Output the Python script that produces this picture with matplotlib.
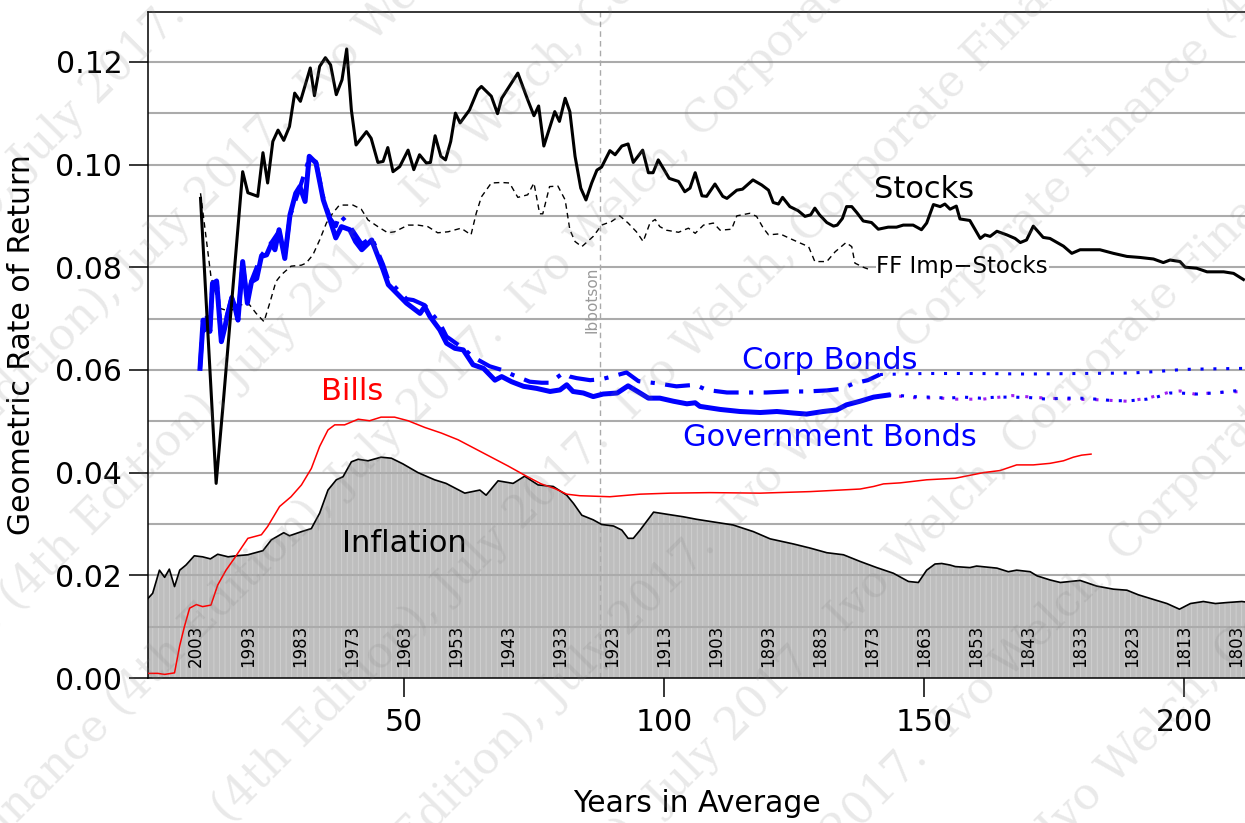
import numpy as np
import matplotlib
matplotlib.use("Agg")
import matplotlib.pyplot as plt

plt.rcParams['font.family'] = ['DejaVu Sans']
plt.rcParams['hatch.linewidth'] = 0.6

# ---------------- data ----------------
stocks_x = [10.9, 13.9, 15.3, 17.2, 19.0, 20.0, 21.9, 22.9, 23.8, 24.8, 25.8, 26.9, 28.0, 29.0, 30.1, 32.0, 32.8,
            33.8, 34.9, 35.9, 37.0, 38.1, 39.0, 39.9, 40.8, 42.8, 43.7, 45.0, 46.0, 46.9, 47.9, 49.2, 50.8, 51.9,
            53.0, 54.3, 55.1, 56.0, 57.1, 58.0, 59.0, 59.9, 60.8, 62.6, 64.2, 64.9, 66.8, 68.0, 68.8, 71.9, 73.8,
            75.0, 75.9, 76.9, 79.0, 79.9, 81.0, 81.9, 82.9, 84.0, 85.0, 86.1, 87.1, 88.0, 89.6, 90.6, 91.9, 93.1,
            94.1, 95.9, 97.0, 97.9, 98.9, 101.0, 102.8, 104.0, 105.0, 106.0, 107.3, 108.2, 109.8, 111.3, 112.1,
            114.0, 115.1, 117.1, 118.8, 120.1, 121.0, 122.0, 122.8, 124.2, 125.8, 127.1, 128.2, 129.0, 129.9,
            131.3, 132.6, 133.3, 134.3, 135.1, 136.1, 137.1, 138.3, 139.9, 141.2, 143.1, 144.7, 146.0, 147.9,
            149.5, 150.5, 151.8, 153.1, 154.0, 155.0, 156.2, 156.9, 158.8, 160.8, 161.7, 162.7, 164.0, 165.9,
            167.5, 168.5, 169.7, 171.0, 172.9, 174.2, 176.8, 178.4, 180.0, 183.8, 186.4, 189.0, 191.5, 194.1,
            196.0, 197.3, 199.2, 200.2, 202.4, 204.4, 207.6, 209.5, 211.4]
stocks_y = [.0934, .0379, .0540, .0769, .0986, .0945, .0938, .1023, .0964, .1045, .1067, .1047, .1074, .1139, .1123,
            .1188, .1134, .1191, .1208, .1194, .1136, .1165, .1225, .1106, .1038, .1064, .1051, .1004, .1006, .1033,
            .0986, .0996, .1028, .0990, .1019, .1003, .1004, .1056, .1016, .1009, .1045, .1100, .1081, .1106, .1145,
            .1152, .1133, .1099, .1129, .1178, .1126, .1095, .1114, .1036, .1103, .1084, .1129, .1103, .1016, .0954,
            .0931, .0964, .0989, .0995, .1027, .1019, .1036, .1040, .1004, .1028, .0984, .0984, .1009, .0973, .0967,
            .0947, .0954, .0984, .0939, .0938, .0962, .0938, .0934, .0950, .0952, .0970, .0960, .0950, .0926, .0923,
            .0936, .0918, .0910, .0899, .0902, .0915, .0902, .0887, .0880, .0882, .0895, .0918, .0918, .0906, .0890,
            .0887, .0874, .0878, .0878, .0882, .0882, .0873, .0886, .0922, .0918, .0923, .0913, .0919, .0894, .0891,
            .0856, .0863, .0860, .0870, .0863, .0856, .0848, .0853, .0880, .0858, .0856, .0841, .0827, .0834, .0834,
            .0827, .0821, .0819, .0816, .0809, .0814, .0811, .0800, .0798, .0791, .0791, .0788, .0776]

ff_x = [10.9, 12.9, 14.6, 16.5, 18.7, 20.3, 21.6, 23.1, 24.2, 25.4, 26.4, 28.3, 30.3, 31.2, 32.5, 33.8, 35.1, 36.3,
        37.6, 40.2, 41.8, 43.1, 45.0, 46.9, 48.2, 50.8, 52.7, 54.6, 56.5, 58.5, 61.0, 62.9, 63.9, 64.9, 66.8, 68.7,
        70.3, 71.9, 73.8, 75.0, 76.1, 76.7, 78.0, 79.6, 81.0, 81.9, 82.9, 84.2, 86.4, 88.0, 89.9, 91.5, 93.1, 94.7,
        96.0, 97.3, 98.3, 99.2, 100.5, 102.8, 104.7, 106.0, 107.6, 109.5, 110.8, 113.0, 114.0, 116.5, 117.8, 119.1,
        120.1, 122.3, 124.2, 126.2, 127.8, 129.0, 131.3, 132.9, 135.0, 136.1, 136.7, 138.3, 139.6]
ff_y = [.0944, .0782, .0720, .0714, .0727, .0727, .0710, .0694, .0730, .0772, .0785, .0802, .0804, .0808, .0824,
        .0853, .0886, .0905, .0921, .0921, .0913, .0892, .0879, .0867, .0869, .0882, .0882, .0879, .0867, .0869,
        .0876, .0863, .0905, .0937, .0964, .0965, .0964, .0936, .0941, .0964, .0904, .0904, .0957, .0958, .0931,
        .0873, .0850, .0840, .0860, .0882, .0889, .0900, .0886, .0869, .0850, .0886, .0893, .0879, .0872, .0868,
        .0876, .0866, .0882, .0886, .0872, .0874, .0900, .0905, .0899, .0876, .0863, .0865, .0856, .0847, .0840,
        .0811, .0811, .0830, .0848, .0840, .0808, .0800, .0795]

gov_x = [10.8, 11.4, 11.7, 12.2, 12.7, 13.2, 14.0, 14.9, 15.6, 16.0, 16.9, 17.5, 18.1, 19.0, 19.9, 20.7, 21.7, 22.6,
         23.6, 24.6, 25.2, 26.0, 27.1, 28.1, 29.2, 30.0, 31.0, 31.8, 33.1, 34.5, 35.8, 36.9, 38.0, 39.6, 40.7, 41.9,
         43.8, 46.0, 47.0, 50.5, 53.1, 54.0, 55.0, 56.9, 58.2, 59.8, 61.4, 63.3, 65.3, 67.5, 68.8, 70.7, 73.0, 75.5,
         78.1, 80.0, 81.3, 82.5, 84.5, 86.4, 88.3, 91.0, 93.1, 95.4, 97.0, 99.2, 101.8, 104.4, 106.0, 106.9, 110.8,
         114.6, 118.5, 121.7, 124.9, 127.4, 130.6, 133.2, 135.1, 137.7, 140.3, 143.1]
gov_y = [.0603, .0697, .0678, .0701, .0675, .0769, .0772, .0655, .0684, .0704, .0740, .0723, .0697, .0811, .0730,
         .0772, .0778, .0821, .0824, .0847, .0834, .0873, .0817, .0902, .0944, .0957, .0928, .1016, .1003, .0931,
         .0892, .0857, .0879, .0873, .0850, .0834, .0853, .0795, .0766, .0730, .0710, .0723, .0704, .0678, .0652,
         .0642, .0639, .0610, .0603, .0580, .0587, .0577, .0568, .0564, .0558, .0561, .0571, .0558, .0555, .0548,
         .0553, .0555, .0569, .0555, .0545, .0545, .0539, .0534, .0536, .0529, .0523, .0519, .0517, .0519, .0516,
         .0514, .0519, .0522, .0532, .0539, .0547, .0551]

gov_ext_x = [143.1, 144.1, 147.9, 151.2, 154.4, 157.6, 160.8, 164.0, 167.2, 170.4, 173.6, 176.8, 180.0, 183.2, 186.4,
             189.6, 192.8, 194.7, 197.3, 199.2, 202.4, 205.6, 208.8, 211.4]
gov_ext_y = [.0551, .0551, .0548, .0547, .0545, .0547, .0545, .0547, .0547, .0546, .0543, .0545, .0545, .0543, .0540,
             .0540, .0543, .0547, .0555, .0555, .0553, .0555, .0558, .0561]
gov_alt_x = [143.1, 148.0, 153.3, 156.0, 161.3, 167.0, 172.0, 178.0, 183.0, 189.0, 193.0, 197.3, 199.2, 202.0, 207.0,
             211.4]
gov_alt_y = [.0551, .0546, .0545, .0543, .0543, .0550, .0546, .0543, .0542, .0539, .0545, .0557, .0559, .0553, .0556,
             .0558]

corp_x = [10.8, 11.4, 12.2, 12.7, 13.2, 14.0, 14.9, 16.0, 16.9, 18.1, 19.0, 19.9, 20.7, 22.6, 24.6, 26.0, 27.1, 28.1,
          30.0, 31.8, 33.1, 34.5, 35.8, 36.9, 37.6, 38.5, 39.6, 41.9, 43.8, 46.0, 47.0, 50.5, 51.8, 54.0, 56.9, 58.2,
          61.4, 63.3, 66.5, 68.8, 71.0, 74.2, 76.5, 78.1, 80.6, 81.9, 83.2, 85.8, 88.0, 89.6, 92.8, 95.1, 98.6,
          102.4, 106.0, 108.2, 112.1, 115.9, 119.7, 123.6, 127.4, 131.3, 134.0, 136.6, 139.2, 141.5]
corp_y = [.0605, .0695, .0703, .0678, .0767, .0774, .0658, .0706, .0742, .0700, .0808, .0733, .0774, .0823, .0849,
          .0870, .0820, .0900, .0955, .1012, .1005, .0935, .0895, .0880, .0902, .0893, .0880, .0845, .0858, .0805,
          .0775, .0738, .0736, .0726, .0691, .0665, .0642, .0625, .0607, .0600, .0590, .0577, .0575, .0575, .0594,
          .0587, .0584, .0580, .0582, .0586, .0595, .0578, .0574, .0568, .0571, .0561, .0556, .0556, .0556, .0558,
          .0558, .0560, .0563, .0574, .0580, .0591]
corp_ext_x = [141.5, 150.0, 160.0, 170.0, 180.0, 190.0, 195.0, 200.0, 205.0, 211.8]
corp_ext_y = [.0591, .0593, .0593, .0592, .0593, .0594, .0597, .0601, .0602, .0603]

bills_x = [0.8, 2.7, 4.0, 5.9, 6.9, 7.8, 8.8, 10.1, 11.3, 12.9, 14.2, 15.8, 17.4, 20.0, 22.6, 23.8, 26.1, 28.3, 30.3,
           32.2, 33.8, 35.4, 36.7, 38.6, 41.2, 43.4, 45.6, 48.2, 50.8, 54.0, 57.2, 60.4, 63.6, 66.8, 70.0, 73.2,
           76.4, 79.0, 81.3, 83.8, 89.6, 95.4, 101.2, 108.8, 118.5, 128.1, 137.7, 140.3, 142.2, 145.4, 150.5,
           156.0, 161.4, 164.6, 167.8, 171.0, 174.2, 176.8, 178.7, 180.3, 182.1]
bills_y = [.0009, .0009, .0007, .0010, .0063, .0100, .0136, .0143, .0139, .0142, .0181, .0210, .0233, .0272, .0279,
           .0295, .0334, .0353, .0376, .0408, .0451, .0483, .0493, .0493, .0504, .0501, .0508, .0508, .0501, .0488,
           .0477, .0464, .0447, .0430, .0413, .0395, .0378, .0369, .0358, .0355, .0353, .0358, .0360, .0361, .0360,
           .0363, .0368, .0373, .0378, .0380, .0386, .0389, .0400, .0404, .0415, .0415, .0418, .0423, .0430, .0434,
           .0436]

infl_x = [0.8, 1.7, 3.0, 4.0, 4.9, 5.9, 6.9, 8.1, 9.7, 11.3, 12.8, 14.2, 16.2, 17.8, 20.0, 22.9, 24.5, 26.9, 28.0,
          30.3, 32.2, 33.8, 35.4, 37.0, 38.3, 39.9, 41.2, 43.1, 45.6, 47.6, 49.8, 52.7, 55.9, 58.1, 61.7, 64.6, 65.8,
          68.1, 71.0, 73.2, 75.8, 78.7, 81.3, 82.6, 84.2, 86.4, 88.0, 90.3, 91.9, 93.1, 94.1, 95.4, 98.0, 100.5,
          103.7, 106.3, 110.1, 113.3, 117.2, 120.4, 124.9, 128.1, 131.3, 134.5, 137.7, 140.9, 144.1, 147.0, 148.9,
          150.5, 152.1, 153.4, 155.0, 156.0, 158.8, 160.1, 164.0, 166.2, 167.8, 170.4, 171.7, 174.2, 176.2, 180.0,
          183.2, 186.4, 189.0, 191.2, 194.1, 196.7, 199.1, 201.2, 203.7, 206.0, 208.3, 211.1, 211.8]
infl_y = [.0155, .0165, .0210, .0196, .0212, .0178, .0210, .0220, .0238, .0236, .0232, .0241, .0236, .0238, .0240,
          .0248, .0269, .0283, .0277, .0285, .0291, .0321, .0366, .0386, .0392, .0421, .0426, .0423, .0430, .0428,
          .0417, .0400, .0386, .0379, .0360, .0366, .0356, .0384, .0379, .0393, .0376, .0373, .0356, .0340, .0317,
          .0308, .0299, .0296, .0288, .0272, .0272, .0288, .0323, .0319, .0314, .0309, .0303, .0298, .0285, .0271,
          .0261, .0253, .0244, .0240, .0227, .0215, .0204, .0188, .0186, .0210, .0222, .0223, .0220, .0217, .0215,
          .0218, .0214, .0207, .0210, .0207, .0199, .0191, .0186, .0190, .0179, .0173, .0171, .0162, .0153, .0145,
          .0134, .0145, .0149, .0145, .0147, .0149, .0148]

year_labels = [2003, 1993, 1983, 1973, 1963, 1953, 1943, 1933, 1923, 1913, 1903, 1893, 1883, 1873, 1863, 1853,
               1843, 1833, 1823, 1813, 1803]
last_year = 2013
ibbotson_x = 87.7

x_ticks = [50, 100, 150, 200]
y_ticks = [0.00, 0.02, 0.04, 0.06, 0.08, 0.10, 0.12]
y_grid = [0.01, 0.02, 0.03, 0.04, 0.05, 0.06, 0.07, 0.08, 0.09, 0.10, 0.11, 0.12]

# ---------------- figure ----------------
W, H = 1245, 823
fig = plt.figure(figsize=(W / 100, H / 100), dpi=100)
ax = fig.add_axes([148 / W, (H - 678) / H, 1 - 148 / W, (678 - 12) / H])
ax.set_xlim(0.8, 211.7)
ax.set_ylim(0, 0.1297)

# inflation area
ax.fill_between(infl_x, 0, infl_y, facecolor='#bebebe', edgecolor='#d2d2d2', hatch='|||', linewidth=0, zorder=1)
ax.plot(infl_x, infl_y, color='black', lw=1.2, zorder=4)

# grid
for g in y_grid:
    ax.axhline(g, color='#ababab', lw=1.5, zorder=2)
ax.axvline(ibbotson_x, color='#aaaaaa', lw=1.0, ls=(0, (4, 3)), zorder=2)
ax.text(ibbotson_x - 1.6, 0.0736, 'Ibbotson', rotation=90, ha='center', va='center', fontsize=11,
        color='#999999', zorder=3)

# year labels
for yr in year_labels:
    ax.text(last_year - yr, 0.0062, str(yr), rotation=90, ha='center', va='center', fontsize=12, zorder=5)

# series
ax.plot(bills_x, bills_y, color='red', lw=1.1, zorder=5)
ax.plot(ff_x, ff_y, color='black', lw=1.0, ls=(0, (4, 3)), zorder=5)
ax.plot(corp_x, corp_y, color='blue', lw=3.0, ls=(0, (6, 2.5, 1, 2.5)), zorder=6)
ax.plot(corp_ext_x, corp_ext_y, color='blue', lw=2.2, ls=(0, (1, 3.2)), zorder=6)
ax.plot(gov_alt_x, gov_alt_y, color='#a020f0', lw=2.2, ls=(1, (1, 3.6)), zorder=6)
ax.plot(gov_ext_x, gov_ext_y, color='blue', lw=2.2, ls=(0, (1, 3.2)), zorder=6)
ax.plot(gov_x, gov_y, color='blue', lw=3.6, zorder=7)
ax.plot(stocks_x, stocks_y, color='black', lw=2.2, zorder=8)

# labels on chart
ax.text(150, 0.0951, 'Stocks', fontsize=22, ha='center', va='center', zorder=9)
ax.text(140.8, 0.0801, 'FF Imp\u2212Stocks', fontsize=16.5, ha='left', va='center', zorder=9,
        bbox=dict(facecolor='white', edgecolor='none', pad=0.5))
ax.text(131.9, 0.0619, 'Corp Bonds', fontsize=22, color='blue', ha='center', va='center', zorder=9)
ax.text(131.9, 0.0469, 'Government Bonds', fontsize=22, color='blue', ha='center', va='center', zorder=9)
ax.text(40, 0.0557, 'Bills', fontsize=22, color='red', ha='center', va='center', zorder=9)
ax.text(50, 0.0261, 'Inflation', fontsize=22, ha='center', va='center', zorder=9)

# axes styling
ax.spines['right'].set_visible(False)
for s in ['left', 'top', 'bottom']:
    ax.spines[s].set_linewidth(1.1)
ax.set_xticks(x_ticks)
ax.set_xticklabels([str(v) for v in x_ticks])
ax.set_yticks(y_ticks)
ax.set_yticklabels(['%.2f' % v for v in y_ticks])
ax.tick_params(axis='both', direction='out', length=13.5, width=1.1, labelsize=21.5)
ax.tick_params(axis='x', pad=8)
ax.tick_params(axis='y', pad=5)

fig.text(697 / W, 1 - 803 / H, 'Years in Average', fontsize=21.5, ha='center', va='center')
fig.text(22 / W, 1 - 345 / H, 'Geometric Rate of Return', fontsize=21.5, ha='center', va='center', rotation=90)

# watermark
wm = 'Ivo Welch, Corporate Finance (4th Edition), July 2017.  '
cx, cy = W / 2, H / 2
for k in range(-8, 9):
    px = cx + k * 150 / np.sqrt(2)
    py = cy - k * 150 / np.sqrt(2)
    t = fig.text(px / W, py / H, wm * 4, fontsize=32, family='DejaVu Serif', color='#7f7f7f', alpha=0.17,
                 rotation=45, rotation_mode='anchor', ha='center', va='center', zorder=100)

fig.savefig('out.png', dpi=100)
